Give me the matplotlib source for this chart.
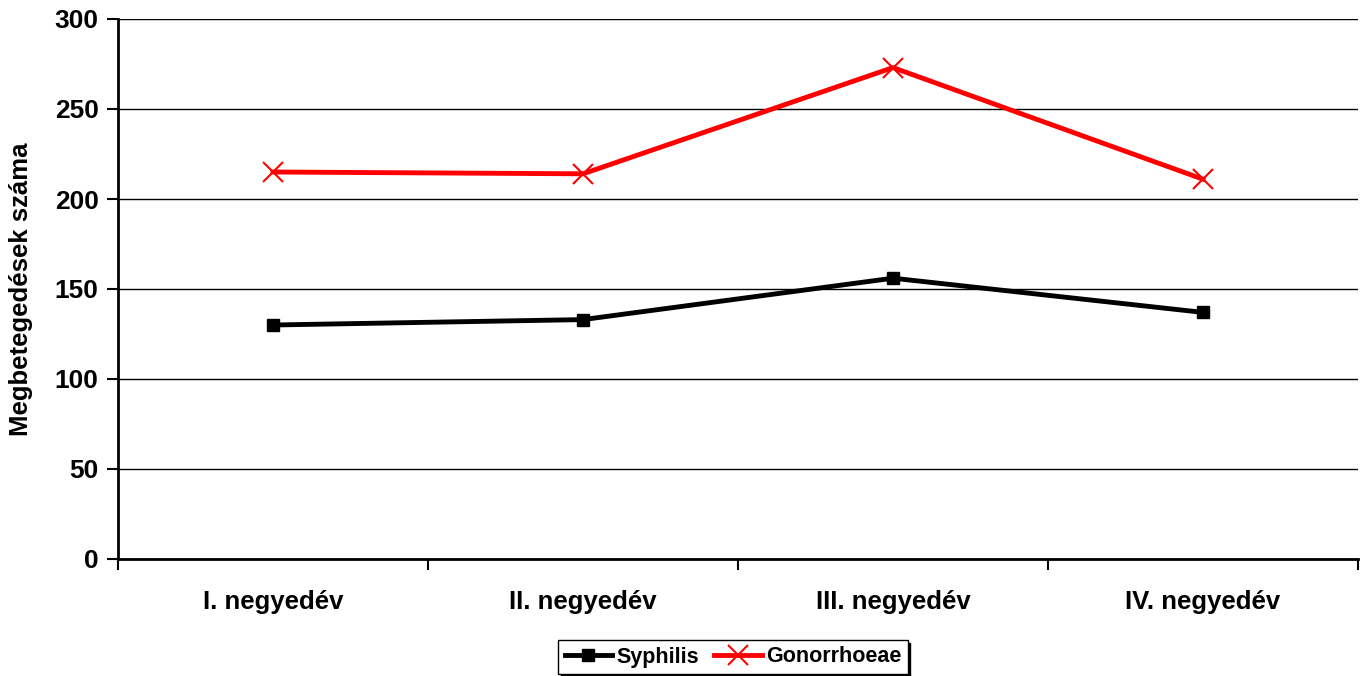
import matplotlib
matplotlib.use("Agg")
import matplotlib.pyplot as plt
from matplotlib.ticker import FixedLocator, NullFormatter

categories = ["I. negyedév", "II. negyedév", "III. negyedév", "IV. negyedév"]
syphilis = [130, 133, 156, 137]
gonorrhoeae = [215, 214, 273, 211]
yticks = [0, 50, 100, 150, 200, 250, 300]

plt.rcParams['font.family'] = ['Liberation Sans', 'DejaVu Sans']
plt.rcParams['font.weight'] = 'bold'

fig = plt.figure(figsize=(13.68, 6.76), dpi=100)
ax = fig.add_axes([118/1368, 117/676, 1240/1368, 540/676])

x = list(range(len(categories)))
ax.plot(x, syphilis, color='black', lw=3.5, marker='s', ms=8, label='Syphilis', zorder=3)
ax.plot(x, gonorrhoeae, color='#ff0000', lw=3.5, marker='x', ms=15, mew=1.5,
        label='Gonorrhoeae', zorder=3)

ax.set_xlim(-0.5, len(categories) - 0.5)
ax.set_ylim(0, 300)
ax.set_yticks(yticks)
ax.set_yticklabels([str(v) for v in yticks], fontsize=19, fontweight='bold')
ax.set_xticks(x)
ax.set_xticklabels(categories, fontsize=18.5, fontweight='bold')
ax.tick_params(axis='x', which='major', length=0, pad=22)
ax.xaxis.set_minor_locator(FixedLocator([i - 0.5 for i in range(len(categories) + 1)]))
ax.xaxis.set_minor_formatter(NullFormatter())
ax.tick_params(axis='x', which='minor', length=8, width=1.5, direction='out')
ax.tick_params(axis='y', length=8, width=1.5, direction='out', pad=6)
ax.grid(axis='y', color='black', lw=1)
ax.set_axisbelow(True)
for s in ['top', 'right']:
    ax.spines[s].set_visible(False)
for s in ['left', 'bottom']:
    ax.spines[s].set_linewidth(2)
ax.set_ylabel('Megbetegedések száma', fontsize=18.5, fontweight='bold')
ax.yaxis.set_label_coords((33 - 118) / 1240, 0.5)

leg = ax.legend(loc='center', bbox_to_anchor=(733/1368, 19/676), bbox_transform=fig.transFigure,
                ncol=2, frameon=True, fancybox=False, shadow={'color': 'black', 'alpha': 1},
                prop={'size': 15.5, 'weight': 'bold'}, handlelength=2.2, handletextpad=0.2,
                columnspacing=0.7, borderpad=0.3, borderaxespad=0)
leg.get_frame().set_edgecolor('black')
leg.get_frame().set_linewidth(1)

fig.savefig('out.png', dpi=100)
